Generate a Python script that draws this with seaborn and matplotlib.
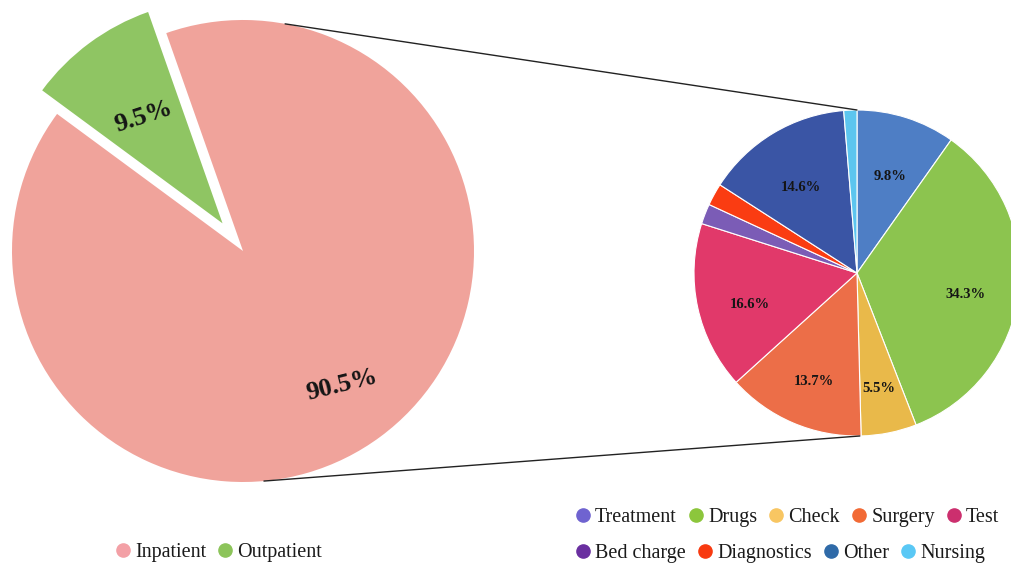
import numpy as np
import matplotlib
matplotlib.use('Agg')
import matplotlib.pyplot as plt
import seaborn as sns
from matplotlib.patches import ConnectionPatch
from matplotlib.lines import Line2D
from matplotlib.transforms import ScaledTranslation

# ---------------- data ----------------
patient_types = ['Inpatient', 'Outpatient']
patient_shares = [90.5, 9.5]
patient_colors = ['#f0a39b', '#8fc563']
patient_legend_colors = ['#f3a0a6', '#8cc45a']

cost_items = ['Treatment', 'Drugs', 'Check', 'Surgery', 'Test',
              'Bed charge', 'Diagnostics', 'Other', 'Nursing']
cost_shares = [9.8, 34.3, 5.5, 13.7, 16.6, 2.0, 2.2, 14.6, 1.3]
cost_colors = ['#4e7ec5', '#8cc44f', '#e9b94a', '#ec6e48', '#e1396a',
               '#7b5cb6', '#fa3c12', '#3a55a5', '#5cc5ef']
cost_legend_colors = ['#6f63d0', '#8cc63c', '#f8c662', '#f26a35', '#cc2f6e',
                      '#6a2fa0', '#f83a10', '#2f6aa8', '#5ac8f5']

# ---------------- style ----------------
sns.set_theme(style='white')
plt.rcParams['font.family'] = ['Liberation Serif', 'DejaVu Serif']

W, H = 1011, 567
fig = plt.figure(figsize=(W / 100, H / 100), dpi=100)


def pie_axes(cx, cy, r, lim):
    half = r * lim
    ax = fig.add_axes([(cx - half) / W, (H - cy - half) / H, 2 * half / W, 2 * half / H])
    ax.set_xlim(-lim, lim)
    ax.set_ylim(-lim, lim)
    ax.set_aspect('equal')
    ax.axis('off')
    return ax


# ---------------- left pie ----------------
LIM1 = 1.2
ax1 = pie_axes(243, 251, 231, LIM1)
explode1 = [0, 0.149]
small_r = 0.97
wedges1, _, auto1 = ax1.pie(
    patient_shares, colors=patient_colors, startangle=143.6, counterclock=True,
    explode=explode1, autopct='%1.1f%%', pctdistance=0.72,
    wedgeprops=dict(linewidth=0),
    textprops=dict(fontsize=19, fontweight='bold', color='#151515'))
ax1.set_xlim(-LIM1, LIM1)
ax1.set_ylim(-LIM1, LIM1)
w = wedges1[1]
w.set_radius(small_r)
mid = np.deg2rad((w.theta1 + w.theta2) / 2)
d = explode1[1] + 0.59 * small_r
auto1[1].set_position((d * np.cos(mid), d * np.sin(mid)))
auto1[1].set_rotation(18)
auto1[0].set_rotation(14)

# ---------------- right pie ----------------
LIM2 = 1.1
ax2 = pie_axes(857, 273, 163, LIM2)
wedges2, _, auto2 = ax2.pie(
    cost_shares, colors=cost_colors, startangle=90, counterclock=False,
    autopct=lambda p: f'{p:.1f}%' if p > 3 else '', pctdistance=0.67,
    wedgeprops=dict(edgecolor='white', linewidth=0.8),
    textprops=dict(fontsize=10.5, fontweight='bold', color='#151515'))
ax2.set_xlim(-LIM2, LIM2)
ax2.set_ylim(-LIM2, LIM2)
shift = ScaledTranslation(0, -8 / 100, fig.dpi_scale_trans)
for t in auto2:
    t.set_transform(ax2.transData + shift)

# ---------------- connector lines ----------------
for a1, a2 in [(79.5, 90.0), (-84.8, -89.0)]:
    t1, t2 = np.deg2rad(a1), np.deg2rad(a2)
    con = ConnectionPatch(xyA=(np.cos(t1), np.sin(t1)), coordsA=ax1.transData,
                          xyB=(np.cos(t2), np.sin(t2)), coordsB=ax2.transData,
                          color='#222222', linewidth=1.0)
    fig.add_artist(con)

# ---------------- legends ----------------
def handles(colors):
    return [Line2D([0], [0], marker='o', linestyle='none', markersize=9.5,
                   markerfacecolor=c, markeredgecolor=c) for c in colors]


leg_kw = dict(loc='center left', frameon=False, fontsize=14.5, handlelength=0.7,
              handletextpad=0.25, columnspacing=0.6, borderpad=0, borderaxespad=0,
              labelcolor='#1a1a1a')

fig.legend(handles(patient_legend_colors), patient_types,
           bbox_to_anchor=(116 / W, 1 - 552 / H), ncol=2, **leg_kw)
fig.legend(handles(cost_legend_colors[:5]), cost_items[:5],
           bbox_to_anchor=(576 / W, 1 - 517 / H), ncol=5, **leg_kw)
fig.legend(handles(cost_legend_colors[5:]), cost_items[5:],
           bbox_to_anchor=(576 / W, 1 - 553 / H), ncol=4, **leg_kw)

fig.savefig('out.png', dpi=100, facecolor='white')
